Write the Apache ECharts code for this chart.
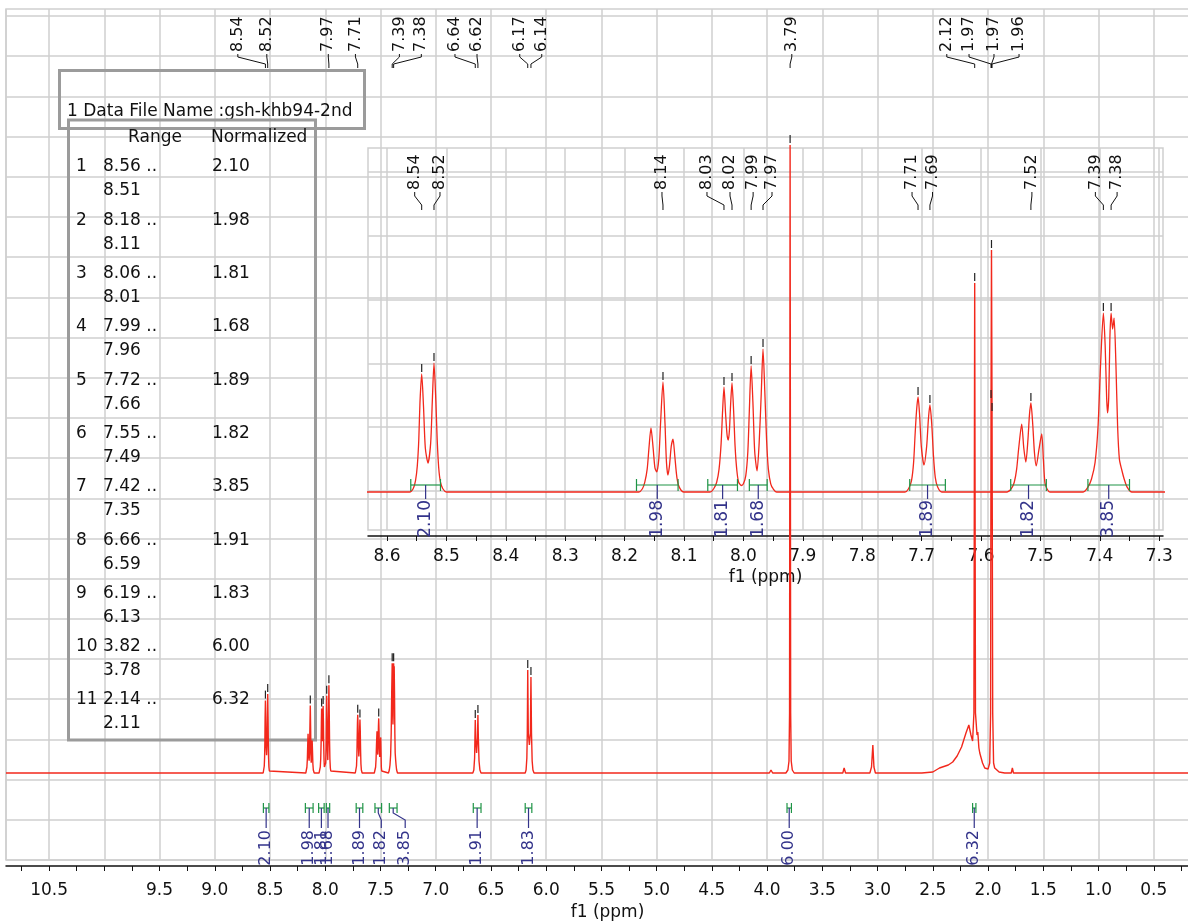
<!DOCTYPE html>
<html>
<head>
<meta charset="utf-8">
<script src="https://cdn.jsdelivr.net/npm/echarts@6/dist/echarts.min.js"></script>
<style>
  html, body { margin: 0; padding: 0; background: #ffffff; }
  #chart { width: 1188px; height: 924px; }
</style>
</head>
<body>
<div id="chart"></div>
<script>
// ---------------- data ----------------
// 1H spectrum trace: [chemical shift (ppm), intensity]
const spectrum = [
  [10.89, 0], [8.562, 0],
  [8.556, 2], [8.552, 7], [8.549, 16], [8.5465, 32], [8.5445, 55], [8.5416, 72.4], [8.5385, 52], [8.5355, 27],
  [8.531, 17.8], [8.5265, 30], [8.5238, 55], [8.5209, 79.1], [8.5178, 56], [8.5155, 32], [8.513, 15], [8.510, 6],
  [8.506, 2], [8.500, 0],
  [8.176, 0],
  [8.170, 2], [8.166, 6], [8.162, 14], [8.159, 27], [8.1556, 39.3], [8.152, 27], [8.149, 15], [8.146, 12.3],
  [8.1425, 20], [8.1395, 42], [8.1354, 67.5], [8.132, 42], [8.1295, 18], [8.127, 10.4], [8.1245, 16], [8.1215, 28],
  [8.1185, 32.5], [8.1155, 22], [8.112, 9], [8.108, 3], [8.100, 0],
  [8.056, 0],
  [8.050, 2], [8.045, 6], [8.041, 14], [8.0375, 30], [8.035, 50], [8.0327, 64.4], [8.030, 48], [8.0275, 35],
  [8.0255, 31.9], [8.0235, 38], [8.0215, 54], [8.0192, 66.9], [8.0165, 50], [8.014, 28], [8.011, 13], [8.008, 6],
  [8.0035, 4],
  [8.000, 5], [7.996, 10], [7.9925, 25], [7.990, 50], [7.987, 77.3], [7.984, 55], [7.981, 25], [7.977, 12.9],
  [7.9735, 30], [7.970, 60], [7.967, 87.7], [7.964, 62], [7.961, 32], [7.958, 14], [7.954, 5], [7.950, 2], [7.944, 0],
  [7.728, 0],
  [7.722, 2], [7.717, 7], [7.7135, 18], [7.711, 35], [7.7085, 50], [7.706, 58.3], [7.7035, 48], [7.7005, 28],
  [7.696, 16.6], [7.6915, 28], [7.6885, 45], [7.686, 53.4], [7.683, 42], [7.680, 22], [7.677, 9], [7.673, 3], [7.666, 0],
  [7.556, 0],
  [7.549, 2], [7.544, 6], [7.540, 14], [7.5365, 27], [7.5315, 41.7], [7.528, 27], [7.5245, 18.4], [7.521, 32],
  [7.5185, 47], [7.516, 54.6], [7.513, 42], [7.510, 24], [7.507, 16], [7.5025, 26], [7.4978, 35.6], [7.495, 20],
  [7.4925, 6], [7.489, 2], [7.484, 0],
  [7.428, 0],
  [7.420, 3], [7.414, 8], [7.408, 18], [7.403, 40], [7.3985, 80], [7.394, 109.8], [7.391, 90], [7.3885, 58],
  [7.387, 48.5], [7.385, 58], [7.383, 95], [7.381, 109.8], [7.3785, 100], [7.376, 106.7], [7.373, 80], [7.370, 40],
  [7.367, 20], [7.363, 13.5], [7.359, 8], [7.354, 3], [7.346, 0],
  [6.664, 0],
  [6.655, 3], [6.648, 15], [6.645, 35], [6.642, 53], [6.638, 35], [6.630, 20], [6.622, 35], [6.618, 58], [6.614, 35],
  [6.608, 12], [6.600, 3], [6.590, 0],
  [6.190, 0],
  [6.182, 3], [6.175, 15], [6.171, 40], [6.167, 103], [6.162, 40], [6.152, 28], [6.143, 40], [6.138, 96], [6.133, 40],
  [6.127, 12], [6.120, 3], [6.110, 0],
  [3.980, 0], [3.965, 3], [3.950, 0],
  [3.830, 0], [3.812, 3], [3.802, 12], [3.797, 60], [3.792, 628], [3.787, 60], [3.782, 12], [3.772, 3], [3.755, 0],
  [3.615, 0], [3.603, 2], [3.590, 0],
  [3.315, 0], [3.303, 5], [3.290, 0],
  [3.070, 0], [3.055, 6], [3.043, 28], [3.033, 6], [3.020, 0],
  [2.600, 0], [2.500, 1], [2.440, 5], [2.360, 8], [2.320, 11], [2.280, 17], [2.240, 26], [2.200, 40], [2.174, 48],
  [2.155, 38], [2.140, 32], [2.128, 60], [2.121, 490], [2.114, 60], [2.100, 38], [2.093, 41], [2.083, 25],
  [2.075, 20], [2.050, 10], [2.030, 5], [2.000, 4], [1.985, 10], [1.977, 60], [1.973, 373], [1.969, 523],
  [1.964, 360], [1.958, 60], [1.950, 10], [1.940, 5], [1.920, 3], [1.900, 1], [1.850, 0],
  [1.790, 0], [1.780, 5], [1.770, 0],
  [0, 0]
];

// picked peaks (ppm)
const peakPicks = [8.5416, 8.5209, 8.1354, 8.0327, 8.0192, 7.987, 7.967, 7.706, 7.686, 7.516, 7.394, 7.381,
                   6.642, 6.618, 6.167, 6.138, 3.792, 2.121, 1.973, 1.969, 1.964];
// peaks labelled above the full spectrum
const mainPeakLabels = [8.5416, 8.5209, 7.967, 7.706, 7.394, 7.381, 6.642, 6.618, 6.167, 6.138,
                        3.792, 2.121, 1.973, 1.969, 1.964];
// peaks labelled above the expanded aromatic region
const insetPeakLabels = [8.5416, 8.5209, 8.1354, 8.0327, 8.0192, 7.987, 7.967, 7.706, 7.686, 7.516, 7.394, 7.381];

// integral regions
const intFrom = [8.56, 8.18, 8.06, 7.99, 7.72, 7.55, 7.42, 6.66, 6.19, 3.82, 2.14];
const intTo   = [8.51, 8.11, 8.01, 7.96, 7.66, 7.49, 7.35, 6.59, 6.13, 3.78, 2.11];
const intNorm = [2.10, 1.98, 1.81, 1.68, 1.89, 1.82, 3.85, 1.91, 1.83, 6.00, 6.32];

// axis tick labels
const mainTickLabels = [10.5, 9.5, 9.0, 8.5, 8.0, 7.5, 7.0, 6.5, 6.0, 5.5, 5.0, 4.5, 4.0, 3.5, 3.0, 2.5, 2.0, 1.5, 1.0, 0.5];
const insetTickLabels = [8.6, 8.5, 8.4, 8.3, 8.2, 8.1, 8.0, 7.9, 7.8, 7.7, 7.6, 7.5, 7.4, 7.3];

const dataFileName = 'gsh-khb94-2nd';

// ---------------- layout / style ----------------
const FONT = '"DejaVu Sans", Verdana, sans-serif';
const RED = '#f2281c';
const GREEN = '#1f9446';
const BLUE = '#33338a';
const INK = '#111111';
const GRIDC = '#cfcfcf';

// horizontal nudges (px) of the label anchors relative to their peaks
const mainLabelShift = [-27.6, -0.9, -0.6, -2.3, 7.2, 27.7, -20.3, -0.9, -8, 10.8, 1.7, -27.9, -22, 2.5, 27];
const insetLabelShift = [-7, 6, -1, -17, -2, 2, 9, -6, 2.6, 1, -8, 6];
const mainIntegralShift = { 5: 3, 6: 12 };

function ticksBetween(hi, lo, step) {
  const out = [];
  const n = Math.round((hi - lo) / step);
  for (let i = 0; i <= n; i++) out.push(+(hi - i * step).toFixed(4));
  return out;
}
const mainTickValues = ticksBetween(10.75, 0.25, 0.25);
const insetTickValues = ticksBetween(8.60, 7.30, 0.05);

// intensity at a picked peak (highest trace point within a narrow window)
function peakHeight(ppm) {
  let best = 0;
  for (const p of spectrum) if (Math.abs(p[0] - ppm) < 0.0015 && p[1] > best) best = p[1];
  return best;
}

const chart = echarts.init(document.getElementById('chart'), null, { renderer: 'canvas' });

function hiddenAxis(extra) {
  return Object.assign({ type: 'value', show: true, axisLine: { show: false }, axisTick: { show: false },
    axisLabel: { show: false }, splitLine: { show: false } }, extra);
}
const gridLineStyle = { color: GRIDC, width: 1.5 };

// peak labels with leader lines
function peakLabelSeries(xi, yi, list, shifts, textBottom, legTop, bendTop, bendBot, legBot) {
  return {
    type: 'custom', xAxisIndex: xi, yAxisIndex: yi, z: 6, silent: true, clip: false,
    data: list.map((p, i) => [p, i]),
    renderItem(params, api) {
      const px = api.coord([api.value(0), 0])[0];
      const lx = px + shifts[api.value(1)];
      return {
        type: 'group',
        children: [
          { type: 'text', x: lx, y: textBottom, rotation: Math.PI / 2,
            style: { text: api.value(0).toFixed(2), font: '16px ' + FONT, fill: INK, align: 'left', verticalAlign: 'middle' } },
          { type: 'polyline', shape: { points: [[lx, legTop], [lx, bendTop], [px, bendBot], [px, legBot]] },
            style: { stroke: INK, lineWidth: 1, fill: null } }
        ]
      };
    }
  };
}

// peak-pick ticks above the peak tops
function pickSeries(xi, yi, list) {
  return {
    type: 'custom', xAxisIndex: xi, yAxisIndex: yi, z: 7, silent: true,
    data: list.map(p => [p, peakHeight(p)]),
    renderItem(params, api) {
      const c = api.coord([api.value(0), api.value(1)]);
      return { type: 'line', shape: { x1: c[0], y1: c[1] - 2, x2: c[0], y2: c[1] - 10 },
               style: { stroke: '#222', lineWidth: 1.2 } };
    }
  };
}

// integral bars + normalised values
function integralSeries(xi, yi, idx, cfg) {
  return {
    type: 'custom', xAxisIndex: xi, yAxisIndex: yi, z: 6, silent: true, clip: false,
    data: idx.map(i => [intFrom[i], intTo[i], intNorm[i], i]),
    renderItem(params, api) {
      const a = api.coord([api.value(0), 0]);
      const b = api.coord([api.value(1), 0]);
      const y = a[1] + cfg.barDy;
      const cx = (a[0] + b[0]) / 2;
      const lx = cx + ((cfg.shift && cfg.shift[api.value(3)]) || 0);
      const g = { stroke: GREEN, lineWidth: 1.2 };
      return {
        type: 'group',
        children: [
          { type: 'line', shape: { x1: a[0], y1: y, x2: b[0], y2: y }, style: g },
          { type: 'line', shape: { x1: a[0], y1: y - cfg.tick, x2: a[0], y2: y + cfg.tick }, style: g },
          { type: 'line', shape: { x1: b[0], y1: y - cfg.tick, x2: b[0], y2: y + cfg.tick }, style: g },
          { type: 'polyline', shape: { points: [[cx, y], [cx, y + cfg.lead1], [lx, y + cfg.lead2], [lx, y + cfg.lead3]] },
            style: { stroke: BLUE, lineWidth: 1.2, fill: null } },
          { type: 'text', x: lx, y: y + cfg.textTop, rotation: Math.PI / 2,
            style: { text: api.value(2).toFixed(2), font: cfg.fontSize + 'px ' + FONT, fill: BLUE, align: 'right', verticalAlign: 'middle' } }
        ]
      };
    }
  };
}

// integral table
const TFONT = '17px ' + FONT;
const tableGraphics = [];
tableGraphics.push({ type: 'text', x: 67, y: 112, z: 1,
  style: { text: '1 Data File Name :' + dataFileName, font: TFONT, fill: INK, verticalAlign: 'middle' } });
tableGraphics.push({ type: 'rect', z: 1, shape: { x: 59.5, y: 70.5, width: 305, height: 58 },
  style: { fill: 'none', stroke: '#9b9b9b', lineWidth: 3 } });
tableGraphics.push({ type: 'rect', z: 1, shape: { x: 68.5, y: 120, width: 247, height: 620 },
  style: { fill: 'none', stroke: '#9b9b9b', lineWidth: 3 } });
tableGraphics.push({ type: 'text', x: 155, y: 138, z: 1,
  style: { text: 'Range', font: TFONT, fill: INK, align: 'center', verticalAlign: 'middle' } });
tableGraphics.push({ type: 'text', x: 211, y: 138, z: 1,
  style: { text: 'Normalized', font: TFONT, fill: INK, align: 'left', verticalAlign: 'middle' } });
intNorm.forEach((v, i) => {
  const y = 167 + i * 53.3;
  tableGraphics.push({ type: 'text', x: 76, y, z: 1,
    style: { text: String(i + 1), font: TFONT, fill: INK, verticalAlign: 'middle' } });
  tableGraphics.push({ type: 'text', x: 103, y, z: 1,
    style: { text: intFrom[i].toFixed(2) + ' ..', font: TFONT, fill: INK, verticalAlign: 'middle' } });
  tableGraphics.push({ type: 'text', x: 103, y: y + 24, z: 1,
    style: { text: intTo[i].toFixed(2), font: TFONT, fill: INK, verticalAlign: 'middle' } });
  tableGraphics.push({ type: 'text', x: 212, y, z: 1,
    style: { text: v.toFixed(2), font: TFONT, fill: INK, verticalAlign: 'middle' } });
});

// inset: 1.63 px per intensity unit, baseline 38 px above the frame bottom
const INSET_SCALE = 1.63;
const insetMin = -38 / INSET_SCALE;
const insetMax = insetMin + 382 / INSET_SCALE;

const NB = { outerBoundsMode: 'none', containLabel: false };

const option = {
  backgroundColor: '#ffffff',
  animation: false,
  textStyle: { fontFamily: FONT },
  grid: [
    // 0: background vertical lines + outer frame
    Object.assign({ left: 6, width: 1203, top: 9, height: 851, show: true, borderColor: GRIDC, borderWidth: 1.5, backgroundColor: 'transparent' }, NB),
    // 1: background horizontal lines
    Object.assign({ left: 6, width: 1182, top: 16, height: 844 }, NB),
    // 2: expansion vertical lines
    Object.assign({ left: 387, width: 772.2, top: 148, height: 382 }, NB),
    // 3: expansion horizontal lines
    Object.assign({ left: 368, width: 795, top: 172, height: 319 }, NB),
    // 4: full spectrum
    Object.assign({ left: 6, width: 1203, top: 9, height: 851 }, NB),
    // 5: expansion 8.63 - 7.29 ppm
    Object.assign({ left: 368, width: 795, top: 148, height: 382, show: true, borderColor: GRIDC, borderWidth: 1.5, backgroundColor: 'transparent' }, NB)
  ],
  xAxis: [
    hiddenAxis({ gridIndex: 0, min: 0, max: 10.89, interval: 0.5, inverse: true, splitLine: { show: true, lineStyle: gridLineStyle } }),
    hiddenAxis({ gridIndex: 1, min: 0, max: 1 }),
    hiddenAxis({ gridIndex: 2, min: 7.3, max: 8.6, interval: 0.1, inverse: true, splitLine: { show: true, lineStyle: gridLineStyle } }),
    hiddenAxis({ gridIndex: 3, min: 0, max: 1 }),
    {
      gridIndex: 4, type: 'value', min: 0, max: 10.89, inverse: true, offset: 6,
      name: 'f1 (ppm)', nameLocation: 'middle', nameGap: 37,
      nameTextStyle: { fontSize: 17, color: INK, fontFamily: FONT },
      axisLine: { show: true, onZero: false, lineStyle: { color: '#111', width: 1.5 } },
      axisTick: { show: true, customValues: mainTickValues, length: 5, lineStyle: { color: '#111', width: 1 } },
      axisLabel: { show: true, customValues: mainTickLabels, margin: 16, fontSize: 17, color: INK, fontFamily: FONT,
                   formatter: v => v.toFixed(1) },
      splitLine: { show: false }
    },
    {
      gridIndex: 5, type: 'value', min: 8.632 - 795 / 594, max: 8.632, inverse: true, offset: 6,
      name: 'f1 (ppm)', nameLocation: 'middle', nameGap: 33,
      nameTextStyle: { fontSize: 17, color: INK, fontFamily: FONT },
      axisLine: { show: true, onZero: false, lineStyle: { color: '#111', width: 1.5 } },
      axisTick: { show: true, customValues: insetTickValues, length: 5, lineStyle: { color: '#111', width: 1 } },
      axisLabel: { show: true, customValues: insetTickLabels, margin: 12, fontSize: 17, color: INK, fontFamily: FONT,
                   formatter: v => v.toFixed(1) },
      splitLine: { show: false }
    }
  ],
  yAxis: [
    hiddenAxis({ gridIndex: 0, min: 0, max: 1 }),
    hiddenAxis({ gridIndex: 1, min: 0, max: 21, interval: 1, splitLine: { show: true, lineStyle: gridLineStyle } }),
    hiddenAxis({ gridIndex: 2, min: 0, max: 1 }),
    hiddenAxis({ gridIndex: 3, min: 0, max: 5, interval: 1, splitLine: { show: true, lineStyle: gridLineStyle } }),
    hiddenAxis({ gridIndex: 4, min: -87, max: 764 }),
    hiddenAxis({ gridIndex: 5, min: insetMin, max: insetMax })
  ],
  graphic: tableGraphics,
  series: [
    { type: 'line', xAxisIndex: 4, yAxisIndex: 4, data: spectrum, showSymbol: false, symbol: 'none', z: 4,
      lineStyle: { color: RED, width: 1.4 }, silent: true },
    { type: 'line', xAxisIndex: 5, yAxisIndex: 5, data: spectrum, showSymbol: false, symbol: 'none', z: 4,
      smooth: 0.25, lineStyle: { color: RED, width: 1.3 }, silent: true },
    pickSeries(4, 4, peakPicks),
    pickSeries(5, 5, peakPicks.filter(p => p < 8.632 && p > 7.294)),
    peakLabelSeries(4, 4, mainPeakLabels, mainLabelShift, 52, 54, 57, 64, 68),
    peakLabelSeries(5, 5, insetPeakLabels, insetLabelShift, 190, 192, 196, 205, 210),
    integralSeries(4, 4, intNorm.map((v, i) => i),
      { barDy: 35, tick: 5, lead1: 5, lead2: 12, lead3: 20, textTop: 22, fontSize: 16, shift: mainIntegralShift }),
    integralSeries(5, 5, [0, 1, 2, 3, 4, 5, 6],
      { barDy: -7, tick: 6, lead1: 6, lead2: 12, lead3: 14, textTop: 15, fontSize: 17 })
  ]
};

chart.setOption(option);
</script>
</body>
</html>
